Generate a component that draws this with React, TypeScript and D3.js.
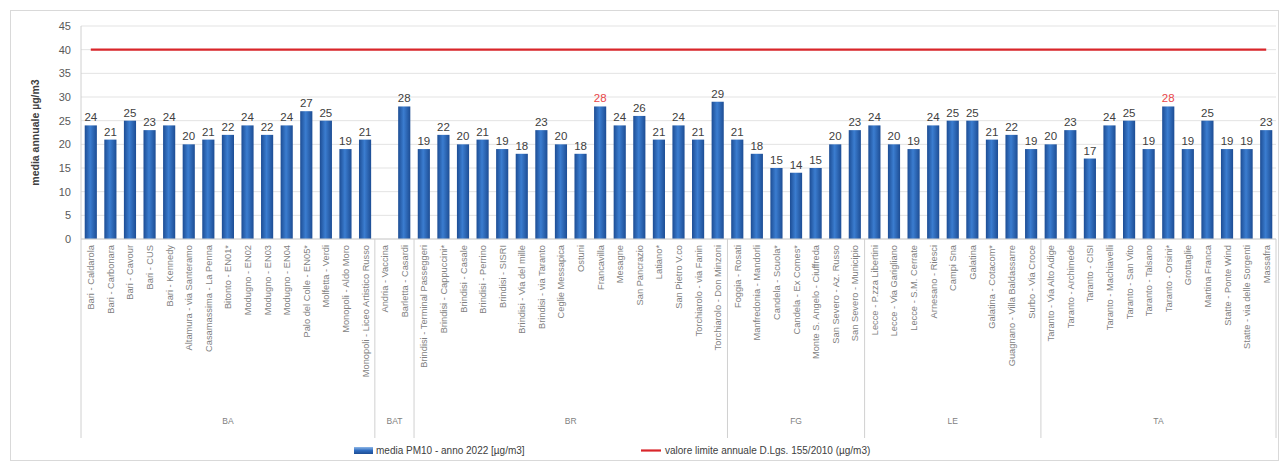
import React from 'react';
import * as d3 from 'd3';

const provinces = ['BA', 'BAT', 'BR', 'FG', 'LE', 'TA'];
const provinceCounts = [15, 2, 16, 7, 9, 12];

const stations = [
  'Bari - Caldarola', 'Bari - Carbonara', 'Bari - Cavour', 'Bari - CUS', 'Bari - Kennedy',
  'Altamura - via Santeramo', 'Casamassima - La Penna', 'Bitonto - EN01*', 'Modugno - EN02',
  'Modugno - EN03', 'Modugno - EN04', 'Palo del Colle - EN05*', 'Molfetta - Verdi',
  'Monopoli - Aldo Moro', 'Monopoli - Liceo Artistico Russo',
  'Andria - Vaccina', 'Barletta - Casardi',
  'Brindisi - Terminal Passeggeri', 'Brindisi - Cappuccini*', 'Brindisi - Casale', 'Brindisi - Perrino',
  'Brindisi - SISRI', 'Brindisi - Via del mille', 'Brindisi - via Taranto', 'Ceglie Messapica',
  'Ostuni', 'Francavilla', 'Mesagne', 'San Pancrazio', 'Latiano*', 'San Pietro V.co',
  'Torchiarolo - via Fanin', 'Torchiarolo - Don Minzoni',
  'Foggia - Rosati', 'Manfredonia - Mandorli', 'Candela - Scuola*', 'Candela - Ex Comes*',
  'Monte S. Angelo - Ciuffreda', 'San Severo - Az. Russo', 'San Severo - Municipio',
  'Lecce - P.zza Libertini', 'Lecce - Via Garigliano', 'Lecce - S.M. Cerrate', 'Arnesano - Riesci',
  'Campi Sna', 'Galatina', 'Galatina - Cotacom*', 'Guagnano - Villa Baldassarre', 'Surbo - Via Croce',
  'Taranto - Via Alto Adige', 'Taranto - Archimede', 'Taranto - CISI', 'Taranto - Machiavelli',
  'Taranto - San Vito', 'Taranto - Talsano', 'Taranto - Orsini*', 'Grottaglie', 'Martina Franca',
  'Statte - Ponte Wind', 'Statte - via delle Sorgenti', 'Massafra',
];

const pm10: (number | null)[] = [
  24, 21, 25, 23, 24, 20, 21, 22, 24, 22, 24, 27, 25, 19, 21,
  null, 28,
  19, 22, 20, 21, 19, 18, 23, 20, 18, 28, 24, 26, 21, 24, 21, 29,
  21, 18, 15, 14, 15, 20, 23,
  24, 20, 19, 24, 25, 25, 21, 22, 19,
  20, 23, 17, 24, 25, 19, 28, 19, 25, 19, 19, 23,
];

const redLabels = ['Francavilla', 'Taranto - Orsini*'];
const limitValue = 40;
const yTicks = [0, 5, 10, 15, 20, 25, 30, 35, 40, 45];

const W = 1284;
const H = 466;
const left = 81;
const right = 1276;
const top = 26;
const bottom = 239;
const font = '"Liberation Sans", Arial, sans-serif';

const App: React.FC = () => {
  const x = d3.scaleBand<string>().domain(stations).range([left, right]).paddingInner(0.38).paddingOuter(0.19);
  const y = d3.scaleLinear().domain([0, 45]).range([bottom, top]);
  const center = (s: string) => (x(s) || 0) + x.bandwidth() / 2;

  // first index of each province group
  const groupStarts: number[] = [];
  let acc = 0;
  provinceCounts.forEach(c => { groupStarts.push(acc); acc += c; });
  const edge = (i: number) => left + (right - left) * (i / stations.length);

  return (
    <svg width={W} height={H} style={{ position: 'absolute', left: 0, top: 0, background: '#fff' }}>
      <defs>
        <linearGradient id="barGrad" x1="0" x2="1" y1="0" y2="0">
          <stop offset="0" stopColor="#1d4d94" />
          <stop offset="0.45" stopColor="#3b7dd0" />
          <stop offset="1" stopColor="#1d4d94" />
        </linearGradient>
        <linearGradient id="legGrad" x1="0" x2="0" y1="0" y2="1">
          <stop offset="0" stopColor="#8fb8e8" />
          <stop offset="0.5" stopColor="#2f6cc0" />
          <stop offset="1" stopColor="#1d4d94" />
        </linearGradient>
      </defs>
      <rect x={10.5} y={10.5} width={1268} height={450} fill="#fff" stroke="#d9d9d9" />

      {yTicks.map(t => (
        <g key={t}>
          <line x1={left} x2={right} y1={y(t)} y2={y(t)} stroke="#e3e3e3" />
          <text x={left - 10} y={y(t)} dy="0.35em" textAnchor="end" fontSize={11} fill="#595959" fontFamily={font}>{t}</text>
        </g>
      ))}
      <line x1={left} x2={left} y1={top} y2={bottom} stroke="#d0d0d0" />

      <text transform={`translate(39,${(top + bottom) / 2}) rotate(-90)`} textAnchor="middle" fontSize={10.5} fontWeight="bold" fill="#404040" fontFamily={font}>
        media annuale µg/m3
      </text>

      {stations.map((s, i) => {
        const v = pm10[i];
        if (v == null) return null;
        return (
          <g key={s}>
            <rect x={x(s)} y={y(v)} width={x.bandwidth()} height={bottom - y(v)} fill="url(#barGrad)" />
            <text x={center(s)} y={y(v) - 4} textAnchor="middle" fontSize={11.5} fill={redLabels.includes(s) ? '#e8474a' : '#404040'} fontFamily={font}>{v}</text>
          </g>
        );
      })}

      <line x1={center(stations[0])} x2={center(stations[stations.length - 1])} y1={y(limitValue)} y2={y(limitValue)} stroke="#d9262b" strokeWidth={2.2} />

      {stations.map(s => (
        <text key={s} transform={`translate(${center(s) + 3.5},245) rotate(-90)`} textAnchor="end" fontSize={9.3} fill="#7f7f7f" fontFamily={font}>{s}</text>
      ))}

      {groupStarts.concat([stations.length]).map(i => (
        <line key={`sep${i}`} x1={edge(i)} x2={edge(i)} y1={bottom} y2={438} stroke="#d0d0d0" />
      ))}
      <line x1={left} x2={right} y1={bottom} y2={bottom} stroke="#d0d0d0" />

      {provinces.map((p, i) => {
        const cx = (edge(groupStarts[i]) + edge(groupStarts[i] + provinceCounts[i])) / 2;
        return <text key={p} x={cx} y={424} textAnchor="middle" fontSize={8.5} fill="#7f7f7f" fontFamily={font}>{p}</text>;
      })}

      <rect x={354} y={447} width={19} height={7} fill="url(#legGrad)" />
      <text x={376} y={454} fontSize={10} fill="#404040" fontFamily={font}>media PM10 - anno 2022 [µg/m3]</text>
      <line x1={641} x2={661} y1={450.5} y2={450.5} stroke="#d9262b" strokeWidth={2.2} />
      <text x={665} y={454} fontSize={10} fill="#404040" fontFamily={font}>valore limite annuale D.Lgs. 155/2010 (µg/m3)</text>
    </svg>
  );
};

export default App;
